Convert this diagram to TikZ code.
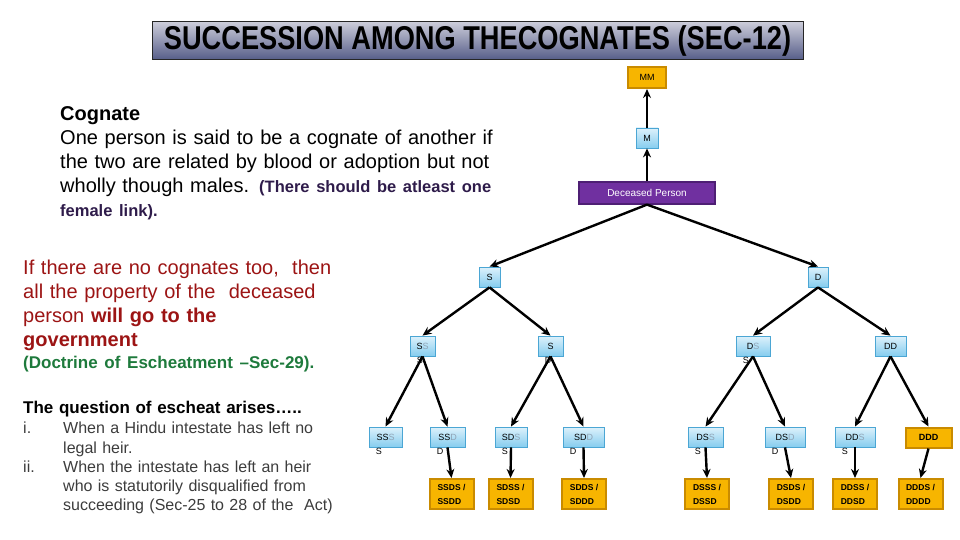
\documentclass[tikz,border=0pt]{standalone}
\usepackage{fontspec}
\setmainfont{Liberation Sans}
\usepackage{xcolor}
\usetikzlibrary{arrows.meta, positioning}

\definecolor{titletop}{HTML}{CBCCD9}
\definecolor{titlebot}{HTML}{555C88}
\definecolor{gold}{HTML}{F7B500}
\definecolor{goldline}{HTML}{C98B00}
\definecolor{bluetop}{HTML}{DDF1FB}
\definecolor{bluebot}{HTML}{86CDEF}
\definecolor{blueline}{HTML}{4BA6D4}
\definecolor{deceased}{HTML}{7030A0}
\definecolor{deceasedline}{HTML}{4E1F74}
\definecolor{redtext}{HTML}{9C1414}
\definecolor{greentext}{HTML}{1E7A3C}
\definecolor{purpletext}{HTML}{2E1B4A}
\definecolor{greytext}{HTML}{3C3C3C}
\definecolor{fade}{HTML}{8FA3B5}

\newcommand{\fd}[1]{\textcolor{fade}{#1}}

\begin{document}
\begin{tikzpicture}[x=1pt, y=-1pt,
        base/.style={align=center, inner sep=0pt, font=\fontsize{9}{11}\selectfont},
        rel/.style={base, draw=blueline, line width=0.8pt, top color=bluetop, bottom color=bluebot, minimum height=20pt},
        gen/.style={base, draw=goldline, line width=2pt, fill=gold, minimum height=20pt},
        heir/.style={base, draw=goldline, line width=2pt, fill=gold, minimum height=30pt, minimum width=44pt, align=left, font=\fontsize{8.5}{14}\selectfont\bfseries},
        lbl/.style={base, anchor=north west, xshift=7pt, yshift=-1pt},
        sub/.style={label={[lbl]south west:#1}},
        titlebox/.style={draw=black!85, line width=1pt, top color=titletop, bottom color=titlebot, minimum width=651pt, minimum height=38pt, inner sep=0pt, font=\fontsize{33}{34}\selectfont\bfseries},
        info/.style={anchor=north west, align=left, inner sep=0pt},
        arrow/.style={-{Stealth[length=9pt, width=8pt]}, line width=2.4pt, draw=black}
    ]
    \useasboundingbox (0,0) rectangle (960,540);

    % heading
    \node (title) at (477.5,41) [titlebox] {\scalebox{0.825}[1]{SUCCESSION AMONG THECOGNATES (SEC-12)}};

    % texts on the left
    \node (cognate) at (60,106) [info, text width=470pt, font=\fontsize{20}{24}\selectfont] {\textbf{Cognate}\\One person is said to be a cognate of another if\\the two are related by blood or adoption but not\\wholly though males. {\color{purpletext}\fontsize{16.5}{24}\selectfont\bfseries(There should be atleast one}\\{\color{purpletext}\fontsize{16.5}{24}\selectfont\bfseries female link).}};

    \node (escheat) at (23,260) [info, text width=340pt, font=\fontsize{20}{24}\selectfont, text=redtext] {If there are no cognates too,\ \ then\\all the property of the\ \ deceased\\person \textbf{will go to the}\\\textbf{government}\\[-2pt]{\color{greentext}\fontsize{17}{22}\selectfont\bfseries(Doctrine of Escheatment --Sec-29).}};

    \node (question) at (23,401) [info, text width=340pt, font=\fontsize{17}{20}\selectfont\bfseries] {The question of escheat arises\dots..};
    \node (cases) at (23,422) [info, text width=340pt, font=\fontsize{16}{19.3}\selectfont, text=greytext] {\makebox[40pt][l]{i.}When a Hindu intestate has left no\\\hspace*{40pt}legal heir.\\\makebox[40pt][l]{ii.}When the intestate has left an heir\\\hspace*{40pt}who is statutorily disqualified from\\\hspace*{40pt}succeeding (Sec-25 to 28 of the\ \ Act)};

    % ancestors
    \node (mm) at (647,77.5) [gen, minimum width=38pt, minimum height=21pt] {MM};
    \node (m) at (647,138) [rel, minimum width=22pt] {M};
    \node (dec) at (647,193) [base, draw=deceasedline, line width=1.2pt, fill=deceased, text=white, minimum width=136pt, minimum height=22pt, font=\fontsize{10}{12}\selectfont] {Deceased Person};

    % children
    \node (s) at (489.5,277) [rel, minimum width=21pt] {S};
    \node (d) at (818,277) [rel, minimum width=20pt] {D};

    % grandchildren
    \node (ss) at (422.5,346) [rel, minimum width=25pt, sub=S] {S\fd{S}};
    \node (sd) at (550.5,346) [rel, minimum width=25pt, sub=D] {S};
    \node (ds) at (753,346) [rel, minimum width=34pt, sub=S] {D\fd{S}};
    \node (dd) at (890.5,346) [rel, minimum width=31pt] {DD};

    % great-grandchildren
    \node (sss) at (385.5,437) [rel, minimum width=33pt, sub=S] {SS\fd{S}};
    \node (ssd) at (447.5,437) [rel, minimum width=35pt, sub=D] {SS\fd{D}};
    \node (sds) at (511,437) [rel, minimum width=32pt, sub=S] {SD\fd{S}};
    \node (sdd) at (583.5,437) [rel, minimum width=41pt, sub=D] {SD\fd{D}};
    \node (dss) at (705.5,437) [rel, minimum width=35pt, sub=S] {DS\fd{S}};
    \node (dsd) at (785,437) [rel, minimum width=40pt, sub=D] {DS\fd{D}};
    \node (dds) at (855,437) [rel, minimum width=40pt, sub=S] {DD\fd{S}};
    \node (ddd) at (928.5,437.5) [gen, minimum width=46pt, font=\fontsize{9}{11}\selectfont\bfseries] {DDD};

    % fourth generation
    \node (ssdx) at (451.5,494) [heir] {SSDS /\\SSDD};
    \node (sdsx) at (510.5,494) [heir] {SDSS /\\SDSD};
    \node (sddx) at (584,494) [heir] {SDDS /\\SDDD};
    \node (dssx) at (707,494) [heir] {DSSS /\\DSSD};
    \node (dsdx) at (791,494) [heir] {DSDS /\\DSDD};
    \node (ddsx) at (855,494) [heir] {DDSS /\\DDSD};
    \node (dddx) at (920.5,494) [heir] {DDDS /\\DDDD};

    \draw [arrow] (dec) -- (m);
    \draw [arrow] (m) -- (mm);
    \draw [arrow] (dec.south) -- (s.north);
    \draw [arrow] (dec.south) -- (d.north);
    \draw [arrow] (s.south) -- (ss.north);
    \draw [arrow] (s.south) -- (sd.north);
    \draw [arrow] (d.south) -- (ds.north);
    \draw [arrow] (d.south) -- (dd.north);
    \draw [arrow] (ss.south) -- (sss.north);
    \draw [arrow] (ss.south) -- (ssd.north);
    \draw [arrow] (sd.south) -- (sds.north);
    \draw [arrow] (sd.south) -- (sdd.north);
    \draw [arrow] (ds.south) -- (dss.north);
    \draw [arrow] (ds.south) -- (dsd.north);
    \draw [arrow] (dd.south) -- (dds.north);
    \draw [arrow] (dd.south) -- (ddd.north);
    \draw [arrow] (ssd.south) -- (ssdx.north);
    \draw [arrow] (sds.south) -- (sdsx.north);
    \draw [arrow] (sdd.south) -- (sddx.north);
    \draw [arrow] (dss.south) -- (dssx.north);
    \draw [arrow] (dsd.south) -- (dsdx.north);
    \draw [arrow] (dds.south) -- (ddsx.north);
    \draw [arrow] (ddd.south) -- (dddx.north);

\end{tikzpicture}
\end{document}
